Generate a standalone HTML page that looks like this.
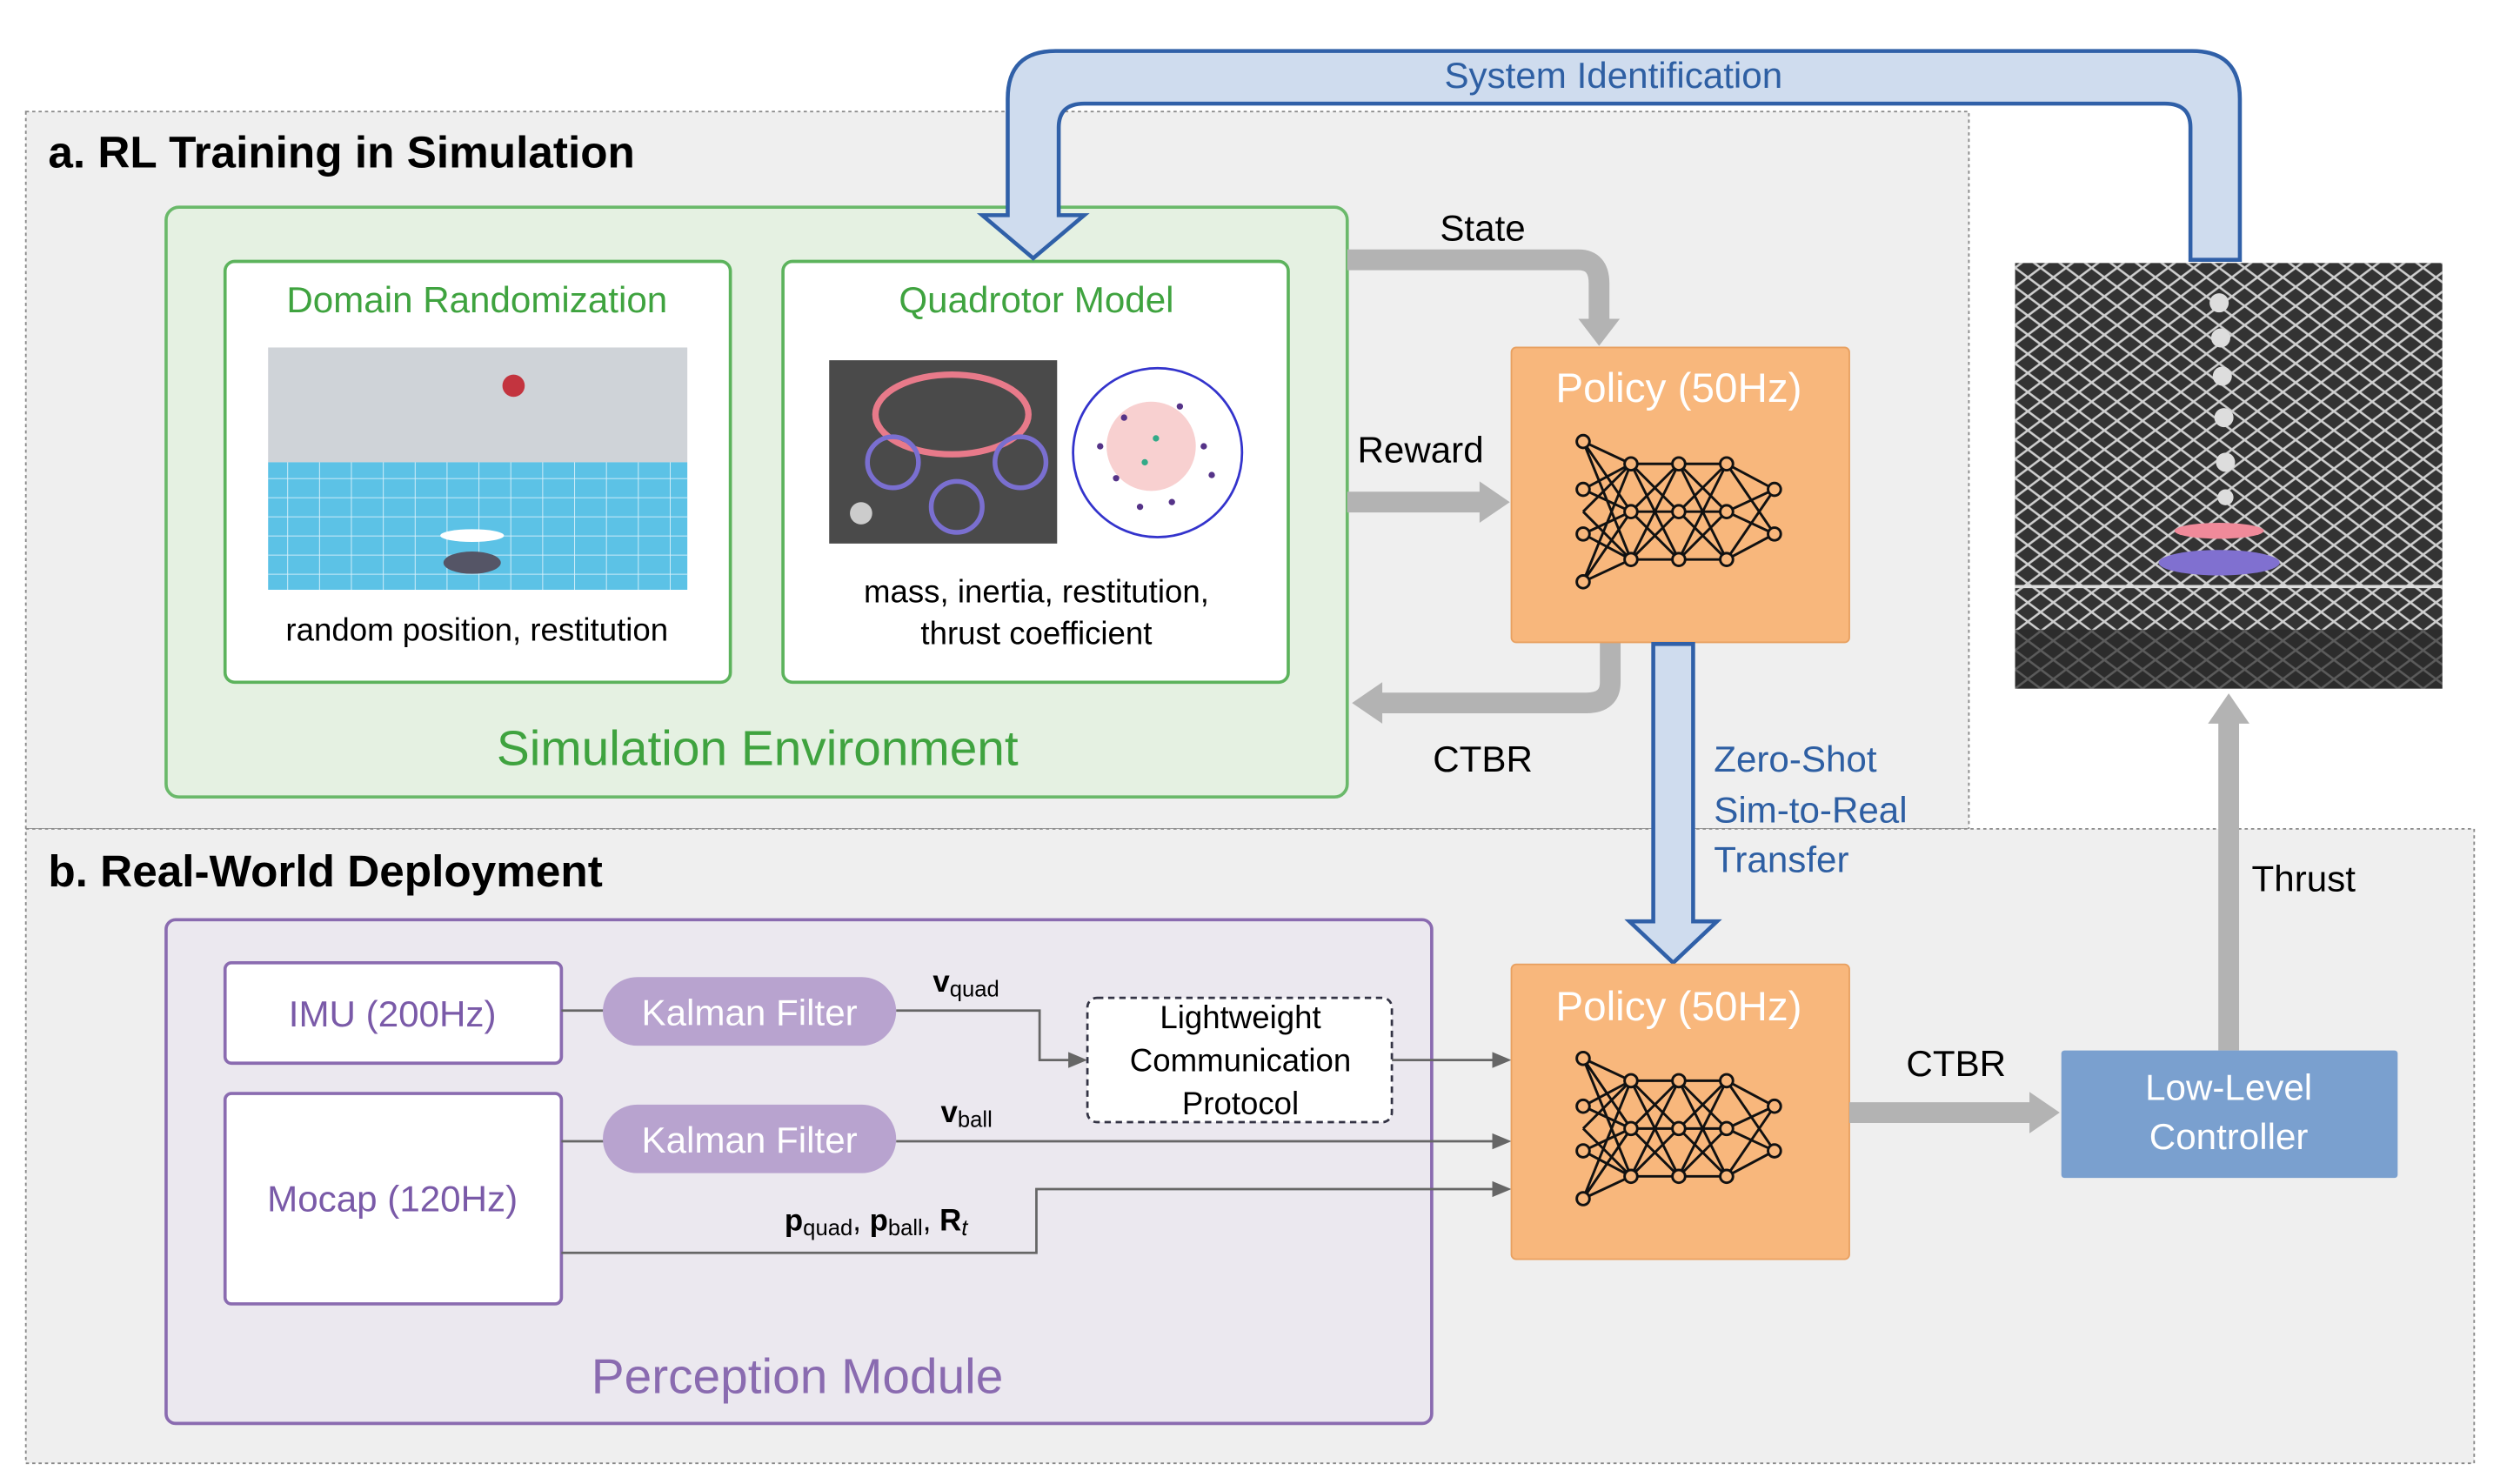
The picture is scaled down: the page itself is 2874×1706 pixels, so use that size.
<!DOCTYPE html>
<html><head><meta charset="utf-8"><style>html,body{margin:0;padding:0;background:#fff}svg{display:block}text{font-family:"Liberation Sans","DejaVu Sans",sans-serif}</style></head><body>
<svg width="2874" height="1706" viewBox="0 0 1568 931" xmlns="http://www.w3.org/2000/svg">
<defs>
<pattern id="net" width="16" height="12" patternUnits="userSpaceOnUse"><path d="M0 0L16 12M16 0L0 12" stroke="#cfcfcf" stroke-width="1.4"/></pattern>
<pattern id="grid" width="20" height="12" patternUnits="userSpaceOnUse"><path d="M0 0H20M0 0V12" stroke="#d8f0fa" stroke-width="1"/></pattern>
<g id="nn" stroke="#111" stroke-width="1.6" fill="#f8b77c">
<path d="M-60-44L-30-30L0-30L30-30L60-14M-60-44L-30 0M-60-44L-30 30M-60 0L-30-30M-60 0L-30 30M-60 44L-30-30M-60 44L-30 0M-60 44L-30 30M-60-14L-30-30M-60-14L-30 0M-60 14L-30 0M-60 14L-30 30M-30-30L0 0M-30-30L0 30M-30 0L0-30M-30 0L0 30M-30 30L0-30M-30 30L0 0M-30 0L0 0M-30 30L0 30M0-30L30 0M0-30L30 30M0 0L30-30M0 0L30 30M0 30L30-30M0 30L30 0M0 0L30 0M0 30L30 30M30-30L60 14M30 0L60-14M30 0L60 14M30 30L60-14M30 30L60 14"/>
<circle cx="-60" cy="-44" r="4"/><circle cx="-60" cy="-14" r="4"/><circle cx="-60" cy="14" r="4"/><circle cx="-60" cy="44" r="4"/>
<circle cx="-30" cy="-30" r="4"/><circle cx="-30" cy="0" r="4"/><circle cx="-30" cy="30" r="4"/>
<circle cx="0" cy="-30" r="4"/><circle cx="0" cy="0" r="4"/><circle cx="0" cy="30" r="4"/>
<circle cx="30" cy="-30" r="4"/><circle cx="30" cy="0" r="4"/><circle cx="30" cy="30" r="4"/>
<circle cx="60" cy="-14" r="4"/><circle cx="60" cy="14" r="4"/>
</g>
</defs>
<rect x="16" y="70" width="1219" height="450" fill="#efefef" stroke="#888" stroke-dasharray="2,2"/>
<rect x="16" y="520" width="1536" height="398" fill="#efefef" stroke="#888" stroke-dasharray="2,2"/>
<text x="30" y="105" font-size="28" font-weight="bold">a. RL Training in Simulation</text>
<text x="30" y="556" font-size="28" font-weight="bold">b. Real-World Deployment</text>
<rect x="104" y="130" width="741" height="370" rx="8" fill="#e5f1e2" stroke="#6ab96a" stroke-width="2"/>
<rect x="141" y="164" width="317" height="264" rx="6" fill="#fff" stroke="#5cb35c" stroke-width="2"/>
<text x="299" y="196" font-size="23" fill="#3fa33f" text-anchor="middle">Domain Randomization</text>
<rect x="168" y="218" width="263" height="72" fill="#cfd3d8"/>
<rect x="168" y="290" width="263" height="80" fill="#5cc2e6"/>
<rect x="168" y="290" width="263" height="80" fill="url(#grid)"/>
<circle cx="322" cy="242" r="7" fill="#c3343f"/>
<ellipse cx="296" cy="336" rx="20" ry="4" fill="#fff"/>
<ellipse cx="296" cy="353" rx="18" ry="7" fill="#556"/>
<text x="299" y="402" font-size="20" text-anchor="middle">random position, restitution</text>
<rect x="491" y="164" width="317" height="264" rx="6" fill="#fff" stroke="#5cb35c" stroke-width="2"/>
<text x="650" y="196" font-size="23" fill="#3fa33f" text-anchor="middle">Quadrotor Model</text>
<rect x="520" y="226" width="143" height="115" fill="#4a4a4a"/>
<ellipse cx="597" cy="260" rx="48" ry="25" fill="none" stroke="#e87a8a" stroke-width="4"/>
<circle cx="560" cy="290" r="16" fill="none" stroke="#7a6fd0" stroke-width="3"/>
<circle cx="640" cy="290" r="16" fill="none" stroke="#7a6fd0" stroke-width="3"/>
<circle cx="600" cy="318" r="16" fill="none" stroke="#7a6fd0" stroke-width="3"/>
<circle cx="540" cy="322" r="7" fill="#ccc"/>
<circle cx="726" cy="284" r="53" fill="#fff" stroke="#3333cc" stroke-width="1.5"/>
<circle cx="722" cy="280" r="28" fill="#f8d0d0"/>
<g fill="#553388"><circle cx="705" cy="262" r="2"/><circle cx="740" cy="255" r="2"/><circle cx="755" cy="280" r="2"/><circle cx="700" cy="300" r="2"/><circle cx="735" cy="315" r="2"/><circle cx="715" cy="318" r="2"/><circle cx="760" cy="298" r="2"/><circle cx="690" cy="280" r="2"/><circle cx="725" cy="275" r="2" fill="#3a8"/><circle cx="718" cy="290" r="2" fill="#3a8"/></g>
<text x="650" y="378" font-size="20" text-anchor="middle">mass, inertia, restitution,</text>
<text x="650" y="404" font-size="20" text-anchor="middle">thrust coefficient</text>
<text x="475" y="480" font-size="31" fill="#3fa33f" text-anchor="middle">Simulation Environment</text>
<g fill="none" stroke="#b3b3b3" stroke-width="13">
<path d="M845 163H990Q1003 163 1003 178V200"/>
<path d="M845 315H930"/>
<path d="M1010 403V428Q1010 441 995 441H865"/>
</g>
<g fill="#b3b3b3">
<path d="M990 200H1016L1003 217Z"/>
<path d="M928 302V328L947 315Z"/>
<path d="M867 428V454L848 441Z"/>
</g>
<text x="930" y="151" font-size="23" text-anchor="middle">State</text>
<text x="891" y="290" font-size="23" text-anchor="middle">Reward</text>
<text x="930" y="484" font-size="23" text-anchor="middle">CTBR</text>
<rect x="948" y="218" width="212" height="185" rx="3" fill="#f8b77c" stroke="#e8a060" stroke-width="1"/>
<text x="1053" y="252" font-size="26" fill="#fff" text-anchor="middle">Policy (50Hz)</text>
<use href="#nn" x="1053" y="321"/>
<rect x="1264" y="165" width="268" height="267" fill="#333"/>
<rect x="1264" y="165" width="268" height="267" fill="url(#net)"/>
<rect x="1264" y="395" width="268" height="37" fill="#2a2a2a" opacity="0.7"/>
<g fill="#ddd"><circle cx="1392" cy="190" r="6"/><circle cx="1393" cy="212" r="6"/><circle cx="1394" cy="236" r="6"/><circle cx="1395" cy="262" r="6"/><circle cx="1396" cy="290" r="6"/><circle cx="1396" cy="312" r="5"/></g>
<ellipse cx="1392" cy="333" rx="28" ry="5" fill="#f08a9a"/>
<ellipse cx="1392" cy="353" rx="38" ry="8" fill="#8070d0"/>
<line x1="1264" y1="368" x2="1532" y2="368" stroke="#ddd" stroke-width="2"/>
<path d="M1374 163V80Q1374 65 1358 65H680Q664 65 664 80V135H680L648 162L616 135H632V62Q632 32 662 32H1375Q1405 32 1405 62V163Z" fill="#cfdcee" stroke="#3060a8" stroke-width="2.5"/>
<text x="1012" y="55" font-size="23" fill="#2e5fa3" text-anchor="middle">System Identification</text>
<path d="M1037 404H1062V578H1077L1049.5 604L1022 578H1037Z" fill="#cfdcee" stroke="#3060a8" stroke-width="2.5"/>
<g font-size="23" fill="#2e5fa3"><text x="1075" y="484">Zero-Shot</text><text x="1075" y="516">Sim-to-Real</text><text x="1075" y="547">Transfer</text></g>
<rect x="104" y="577" width="794" height="316" rx="6" fill="#ebe8ef" stroke="#8a6bb0" stroke-width="2"/>
<rect x="141" y="604" width="211" height="63" rx="4" fill="#fff" stroke="#8a6bb0" stroke-width="2"/>
<text x="246" y="644" font-size="23" fill="#7a5aa8" text-anchor="middle">IMU (200Hz)</text>
<rect x="141" y="686" width="211" height="132" rx="4" fill="#fff" stroke="#8a6bb0" stroke-width="2"/>
<text x="246" y="760" font-size="23" fill="#7a5aa8" text-anchor="middle">Mocap (120Hz)</text>
<g stroke="#666" stroke-width="1.5" fill="none">
<path d="M352 634H380M352 716H380"/>
<path d="M562 634H652V665H672"/>
<path d="M873 665H938"/>
<path d="M562 716H938"/>
<path d="M352 786H650V746H938"/>
</g>
<g fill="#666"><path d="M670 660V670L682 665Z"/><path d="M936 660V670L948 665Z"/><path d="M936 711V721L948 716Z"/><path d="M936 741V751L948 746Z"/></g>
<rect x="378" y="613" width="184" height="43" rx="21.5" fill="#b8a3cf"/>
<text x="470" y="643" font-size="23" fill="#fff" text-anchor="middle">Kalman Filter</text>
<rect x="378" y="693" width="184" height="43" rx="21.5" fill="#b8a3cf"/>
<text x="470" y="723" font-size="23" fill="#fff" text-anchor="middle">Kalman Filter</text>
<rect x="682" y="626" width="191" height="78" rx="6" fill="#fff" stroke="#334" stroke-width="1.5" stroke-dasharray="4,3"/>
<g font-size="20" text-anchor="middle"><text x="778" y="645">Lightweight</text><text x="778" y="672">Communication</text><text x="778" y="699">Protocol</text></g>
<text x="585" y="622" font-size="19" font-family="Liberation Serif" font-weight="bold">v<tspan font-size="14" font-weight="normal" dy="3">quad</tspan></text>
<text x="590" y="704" font-size="19" font-family="Liberation Serif" font-weight="bold">v<tspan font-size="14" font-weight="normal" dy="3">ball</tspan></text>
<text x="492" y="772" font-size="19" font-family="Liberation Serif" font-weight="bold">p<tspan font-size="14" font-weight="normal" dy="3">quad</tspan><tspan dy="-3" font-weight="normal">, </tspan>p<tspan font-size="14" font-weight="normal" dy="3">ball</tspan><tspan dy="-3" font-weight="normal">, </tspan>R<tspan font-size="14" font-style="italic" font-weight="normal" dy="3">t</tspan></text>
<text x="500" y="874" font-size="31" fill="#8a6bb0" text-anchor="middle">Perception Module</text>
<rect x="948" y="605" width="212" height="185" rx="3" fill="#f8b77c" stroke="#e8a060" stroke-width="1"/>
<text x="1053" y="640" font-size="26" fill="#fff" text-anchor="middle">Policy (50Hz)</text>
<use href="#nn" x="1053" y="708"/>
<path d="M1160 698H1275" stroke="#b3b3b3" stroke-width="13"/>
<path d="M1273 685V711L1292 698Z" fill="#b3b3b3"/>
<text x="1227" y="675" font-size="23" text-anchor="middle">CTBR</text>
<path d="M1398 659V452" stroke="#b3b3b3" stroke-width="13"/>
<path d="M1385 454H1411L1398 435Z" fill="#b3b3b3"/>
<text x="1445" y="559" font-size="23" text-anchor="middle">Thrust</text>
<rect x="1293" y="659" width="211" height="80" rx="2" fill="#7aa0cf"/>
<text x="1398" y="690" font-size="23" fill="#fff" text-anchor="middle">Low-Level</text>
<text x="1398" y="721" font-size="23" fill="#fff" text-anchor="middle">Controller</text>
</svg>
</body></html>
